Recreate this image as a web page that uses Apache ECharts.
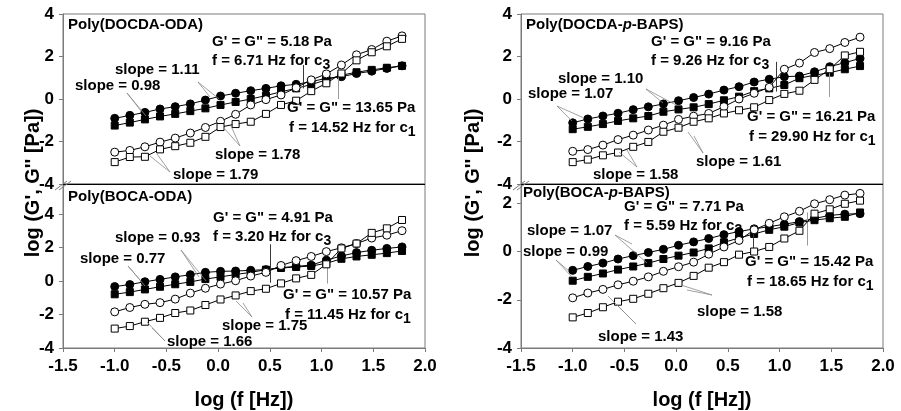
<!DOCTYPE html>
<html>
<head>
<meta charset="utf-8">
<script src="https://cdn.jsdelivr.net/npm/echarts@6/dist/echarts.min.js"></script>
<style>
  html, body { margin: 0; padding: 0; background: #fff; }
  #chart { width: 901px; height: 411px; }
</style>
</head>
<body>
<div id="chart"></div>
<script>
// Frequency sweep, log10(f [Hz])
const logF = [-1.000, -0.854, -0.708, -0.562, -0.415, -0.269, -0.123, 0.023, 0.169, 0.315,
              0.462, 0.608, 0.754, 0.900, 1.046, 1.192, 1.338, 1.485, 1.631, 1.778];

// Poly(DOCDA-ODA): log G'' and log G' for c3 (circles) and c1 (squares)
const docdaOdaLossC3 = [-0.91, -0.77, -0.63, -0.47, -0.36, -0.23, -0.05, 0.14, 0.27, 0.39, 0.50, 0.62, 0.69, 0.82, 0.97, 1.05, 1.20, 1.31, 1.44, 1.56];
const docdaOdaLossC1 = [-1.25, -1.11, -0.96, -0.82, -0.70, -0.57, -0.44, -0.28, -0.14, 0.00, 0.16, 0.34, 0.50, 0.68, 0.90, 1.12, 1.26, 1.37, 1.47, 1.56];
const docdaOdaStorC3 = [-2.50, -2.42, -2.25, -2.03, -1.84, -1.60, -1.34, -1.05, -0.72, -0.28, -0.03, 0.19, 0.53, 0.90, 1.18, 1.60, 2.08, 2.33, 2.72, 2.97];
const docdaOdaStorC1 = [-2.97, -2.73, -2.72, -2.37, -2.22, -2.06, -1.78, -1.32, -1.18, -1.07, -0.70, -0.28, -0.08, 0.37, 0.74, 1.20, 1.82, 2.20, 2.48, 2.83];

// Poly(BOCA-ODA)
const bocaOdaLossC3 = [-0.33, -0.21, -0.04, 0.10, 0.25, 0.38, 0.52, 0.58, 0.60, 0.64, 0.68, 0.80, 0.88, 0.95, 1.25, 1.50, 1.70, 1.84, 1.95, 2.04];
const bocaOdaLossC1 = [-0.79, -0.66, -0.50, -0.34, -0.19, -0.05, 0.12, 0.25, 0.39, 0.52, 0.68, 0.78, 0.84, 0.90, 1.06, 1.33, 1.47, 1.57, 1.67, 1.80];
const bocaOdaStorC3 = [-1.84, -1.58, -1.39, -1.29, -1.08, -0.72, -0.43, -0.18, 0.02, 0.30, 0.52, 0.93, 1.22, 1.47, 1.76, 1.99, 2.24, 2.57, 2.74, 3.01];
const bocaOdaStorC1 = [-2.84, -2.69, -2.43, -2.20, -1.91, -1.76, -1.43, -1.10, -0.86, -0.60, -0.46, -0.14, 0.16, 0.37, 1.00, 1.95, 2.24, 2.88, 3.15, 3.65];

// Poly(DOCDA-p-BAPS)
const docdaBapsLossC3 = [-1.12, -0.94, -0.80, -0.67, -0.50, -0.37, -0.23, -0.08, 0.07, 0.23, 0.42, 0.58, 0.80, 0.93, 1.05, 1.08, 1.28, 1.52, 1.71, 1.91];
const docdaBapsLossC1 = [-1.42, -1.31, -1.18, -1.03, -0.91, -0.80, -0.60, -0.49, -0.39, -0.24, -0.06, 0.11, 0.37, 0.50, 0.66, 0.98, 1.12, 1.24, 1.40, 1.55];
const docdaBapsStorC3 = [-2.46, -2.38, -2.17, -1.91, -1.70, -1.46, -1.23, -0.96, -0.81, -0.68, -0.36, 0.00, 0.27, 0.55, 1.40, 1.69, 2.19, 2.37, 2.66, 2.91];
const docdaBapsStorC1 = [-2.97, -2.85, -2.65, -2.52, -2.25, -2.02, -1.54, -1.35, -1.07, -0.91, -0.68, -0.53, -0.39, -0.05, 0.24, 0.39, 0.90, 1.40, 2.05, 2.22];

// Poly(BOCA-p-BAPS)
const bocaBapsLossC3 = [-0.78, -0.62, -0.48, -0.31, -0.17, -0.04, 0.09, 0.26, 0.40, 0.54, 0.70, 0.83, 0.94, 1.03, 1.13, 1.24, 1.37, 1.50, 1.55, 1.57];
const bocaBapsLossC1 = [-1.21, -1.05, -0.91, -0.75, -0.62, -0.48, -0.31, -0.17, -0.04, 0.13, 0.38, 0.56, 0.73, 0.90, 1.03, 1.20, 1.30, 1.38, 1.44, 1.62];
const bocaBapsStorC3 = [-1.92, -1.72, -1.57, -1.38, -1.23, -1.05, -0.82, -0.63, -0.44, -0.11, 0.19, 0.46, 0.90, 1.17, 1.44, 1.67, 1.98, 2.15, 2.34, 2.41];
const bocaBapsStorC1 = [-2.73, -2.55, -2.31, -2.08, -1.96, -1.75, -1.52, -1.30, -1.01, -0.67, -0.44, -0.13, 0.00, 0.19, 0.54, 0.86, 1.57, 1.75, 1.98, 2.11];

// Panel titles and crossover points (G' = G'') for c3 and c1
const panelTitles = ['Poly(DOCDA-ODA)', 'Poly(BOCA-ODA)', 'Poly(DOCDA-{i|p}-BAPS)', 'Poly(BOCA-{i|p}-BAPS)'];
const crossC3Modulus = [5.18, 4.91, 9.16, 7.71];
const crossC3Freq    = [6.71, 3.20, 9.26, 5.59];
const crossC1Modulus = [13.65, 10.57, 16.21, 15.42];
const crossC1Freq    = [14.52, 11.45, 29.90, 18.65];

// Terminal-zone slopes
const docdaOdaSlopes  = [1.11, 0.98, 1.78, 1.79];
const bocaOdaSlopes   = [0.93, 0.77, 1.75, 1.66];
const docdaBapsSlopes = [1.10, 1.07, 1.61, 1.58];
const bocaBapsSlopes  = [1.07, 0.99, 1.58, 1.43];

// Axis tick values
const xTickValues = [-1.5, -1.0, -0.5, 0.0, 0.5, 1.0, 1.5, 2.0];
const yTickValues = [-4, -2, 0, 2, 4];

// ---------------------------------------------------------------------------
const FONT = '"Liberation Sans", Arial, Helvetica, sans-serif';
const AXIS_GREY = '#7a7a7a';

const subplotData = [
  [docdaOdaLossC3, docdaOdaLossC1, docdaOdaStorC3, docdaOdaStorC1],
  [bocaOdaLossC3, bocaOdaLossC1, bocaOdaStorC3, bocaOdaStorC1],
  [docdaBapsLossC3, docdaBapsLossC1, docdaBapsStorC3, docdaBapsStorC1],
  [bocaBapsLossC3, bocaBapsLossC1, bocaBapsStorC3, bocaBapsStorC1]
];
const subplotSlopes = [docdaOdaSlopes, bocaOdaSlopes, docdaBapsSlopes, bocaBapsSlopes];

// layout of the four stacked plot areas (top / bottom, left / right)
const gridBoxes = [
  { left: 63,  top: 14,  width: 362, height: 170 },
  { left: 63,  top: 184, width: 362, height: 168 },
  { left: 521, top: 14,  width: 362, height: 170 },
  { left: 521, top: 184, width: 362, height: 168 }
];
const yExtents = [[-4, 4], [-4, 5.8], [-4, 4], [-4, 2.8]];
const isBottom = [false, true, false, true];

// marker style for: G'' c3, G'' c1, G' c3, G' c1
const markerKinds = [
  { symbol: 'circle', size: 8, fill: '#000' },
  { symbol: 'rect',   size: 7, fill: '#000' },
  { symbol: 'circle', size: 8, fill: '#fff' },
  { symbol: 'rect',   size: 7, fill: '#fff' }
];

// vertical extents (log G) of the crossover indicator lines: [c3 lo, c3 hi, c1 lo, c1 hi]
const crossLineSpan = [
  [0.50, 1.60, 0.00, 1.70],
  [-0.10, 2.20, -0.15, 1.25],
  [0.35, 1.75, 0.10, 1.35],
  [0.15, 1.10, 0.25, 1.62]
];

// text anchors (px): title, c3 block, c1 block, four slope labels
const noteLayout = [
  { title: [68, 25],  c3: [212, 42],  c1: [287, 108], slopes: [[115, 70], [75, 86], [215, 155], [173, 175]] },
  { title: [68, 197], c3: [213, 218], c1: [283, 295], slopes: [[115, 238], [80, 259], [222, 326], [167, 342]] },
  { title: [526, 25], c3: [651, 42],  c1: [747, 117], slopes: [[558, 79], [528, 94], [696, 162], [593, 175]] },
  { title: [523, 193], c3: [624, 207], c1: [745, 262], slopes: [[527, 231], [523, 252], [697, 312], [598, 337]] }
];

// pointer lines from slope labels to the curves (px)
const leaderLines = [
  [127, 93, 141, 111], [127, 93, 146, 116],
  [198, 82, 210, 97],  [198, 82, 219, 99],
  [240, 146, 223, 127], [240, 146, 231, 126],
  [170, 172, 150, 156], [170, 172, 157, 154],

  [181, 250, 199, 277], [181, 250, 206, 281],
  [128, 266, 141, 281], [128, 266, 145, 286],
  [252, 317, 236, 301], [252, 317, 243, 303],
  [165, 341, 147, 322], [165, 341, 152, 328],

  [646, 89, 663, 103],  [646, 89, 676, 105],
  [557, 106, 572, 121], [557, 106, 584, 118],
  [703, 153, 688, 132], [703, 153, 694, 136],
  [637, 167, 619, 152], [637, 167, 627, 150],

  [615, 235, 632, 244], [615, 235, 647, 263],
  [556, 260, 569, 271], [556, 260, 572, 277],
  [712, 295, 681, 285], [712, 295, 687, 290],
  [636, 324, 618, 306], [636, 324, 608, 296]
];

const chart = echarts.init(document.getElementById('chart'), null, { renderer: 'canvas' });

const grids = gridBoxes.map(b => Object.assign({
  show: true, borderColor: AXIS_GREY, borderWidth: 1, backgroundColor: 'transparent', containLabel: false
}, b));

const xAxes = gridBoxes.map((b, gi) => ({
  gridIndex: gi,
  type: 'value',
  min: xTickValues[0],
  max: xTickValues[xTickValues.length - 1],
  interval: 0.5,
  show: isBottom[gi],
  axisLine: { show: true, onZero: false, lineStyle: { color: AXIS_GREY, width: 1 } },
  axisTick: { show: true, inside: false, length: 4, lineStyle: { color: AXIS_GREY } },
  axisLabel: {
    show: true, margin: 10, color: '#000', fontSize: 17, fontWeight: 'bold', fontFamily: FONT,
    formatter: v => v.toFixed(1)
  },
  splitLine: { show: false },
  name: 'log (f [Hz])',
  nameLocation: 'middle',
  nameGap: 42,
  nameTextStyle: { color: '#000', fontSize: 20, fontWeight: 'bold', fontFamily: FONT }
}));

const yAxes = gridBoxes.map((b, gi) => ({
  gridIndex: gi,
  type: 'value',
  min: yExtents[gi][0],
  max: yExtents[gi][1],
  interval: 2,
  axisLine: { show: true, onZero: false, lineStyle: { color: AXIS_GREY, width: 1 } },
  axisTick: { show: true, inside: false, length: 4, lineStyle: { color: AXIS_GREY } },
  axisLabel: {
    margin: 9, color: '#000', fontSize: 17, fontWeight: 'bold', fontFamily: FONT,
    formatter: v => (yTickValues.indexOf(Math.round(v * 1000) / 1000) >= 0 ? String(Math.round(v)) : '')
  },
  splitLine: { show: false }
}));

const series = [];
subplotData.forEach((arrs, gi) => {
  arrs.forEach((vals, k) => {
    const mk = markerKinds[k];
    const s = {
      type: 'line',
      xAxisIndex: gi,
      yAxisIndex: gi,
      data: logF.map((x, i) => [x, vals[i]]),
      symbol: mk.symbol,
      symbolSize: mk.size,
      showSymbol: true,
      lineStyle: { color: '#000', width: 1 },
      itemStyle: { color: mk.fill, borderColor: '#000', borderWidth: 1 },
      emphasis: { disabled: true },
      animation: false,
      z: 3 + k
    };
    if (k === 0) {
      const sp = crossLineSpan[gi];
      const fx3 = Math.log10(crossC3Freq[gi]);
      const fx1 = Math.log10(crossC1Freq[gi]);
      s.markLine = {
        silent: true, symbol: 'none', animation: false,
        label: { show: false },
        data: [
          [{ coord: [fx3, sp[0]], lineStyle: { color: '#3a3a3a', width: 1, type: 'solid' } }, { coord: [fx3, sp[1]] }],
          [{ coord: [fx1, sp[2]], lineStyle: { color: '#9a9a9a', width: 1, type: 'solid' } }, { coord: [fx1, sp[3]] }]
        ]
      };
    }
    series.push(s);
  });
});

// ---- annotations -----------------------------------------------------------
const RICH = {
  s: { fontSize: 14, fontWeight: 'bold', fontFamily: FONT, fill: '#000', padding: [9, 0, 0, 0] },
  i: { fontSize: 15, fontWeight: 'bold', fontStyle: 'italic', fontFamily: FONT, fill: '#000' }
};
function note(x, y, text, size) {
  return {
    type: 'text', x: x, y: y, z: 100, silent: true,
    style: {
      text: text, fill: '#000', fontSize: size || 15, fontWeight: 'bold', fontFamily: FONT,
      align: 'left', verticalAlign: 'middle', rich: RICH
    }
  };
}

const graphics = [];
noteLayout.forEach((L, gi) => {
  graphics.push(note(L.title[0], L.title[1], panelTitles[gi]));
  graphics.push(note(L.c3[0], L.c3[1], 'G\' = G" = ' + crossC3Modulus[gi].toFixed(2) + ' Pa'));
  graphics.push(note(L.c3[0], L.c3[1] + 19, 'f = ' + crossC3Freq[gi].toFixed(2) + ' Hz for c{s|3}'));
  graphics.push(note(L.c1[0], L.c1[1], 'G\' = G" = ' + crossC1Modulus[gi].toFixed(2) + ' Pa'));
  graphics.push(note(L.c1[0] + 2, L.c1[1] + 20, 'f = ' + crossC1Freq[gi].toFixed(2) + ' Hz for c{s|1}'));
  L.slopes.forEach((p, j) => {
    graphics.push(note(p[0], p[1], 'slope = ' + subplotSlopes[gi][j].toFixed(2)));
  });
});

leaderLines.forEach(l => {
  graphics.push({
    type: 'line', z: 90, silent: true,
    shape: { x1: l[0], y1: l[1], x2: l[2], y2: l[3] },
    style: { stroke: '#8a8a8a', lineWidth: 0.8 }
  });
});

// black divider between the stacked plots and the axis-break marks
[[63, 425], [521, 883]].forEach(([x0, x1]) => {
  graphics.push({
    type: 'line', z: 95, silent: true,
    shape: { x1: x0, y1: 184.5, x2: x1, y2: 184.5 },
    style: { stroke: '#000', lineWidth: 1 }
  });
  [0, 4].forEach(dx => {
    graphics.push({
      type: 'line', z: 95, silent: true,
      shape: { x1: x0 - 8 + dx, y1: 190, x2: x0 + 4 + dx, y2: 181 },
      style: { stroke: AXIS_GREY, lineWidth: 1 }
    });
  });
});

// shared y-axis titles
[33, 473].forEach(x => {
  graphics.push({
    type: 'text', x: x, y: 183, rotation: Math.PI / 2, z: 100, silent: true,
    style: {
      text: "log (G', G'' [Pa])", fill: '#000', fontSize: 20, fontWeight: 'bold', fontFamily: FONT,
      align: 'center', verticalAlign: 'middle'
    }
  });
});

chart.setOption({
  animation: false,
  backgroundColor: '#fff',
  grid: grids,
  xAxis: xAxes,
  yAxis: yAxes,
  series: series,
  graphic: { elements: graphics }
});
</script>
</body>
</html>
